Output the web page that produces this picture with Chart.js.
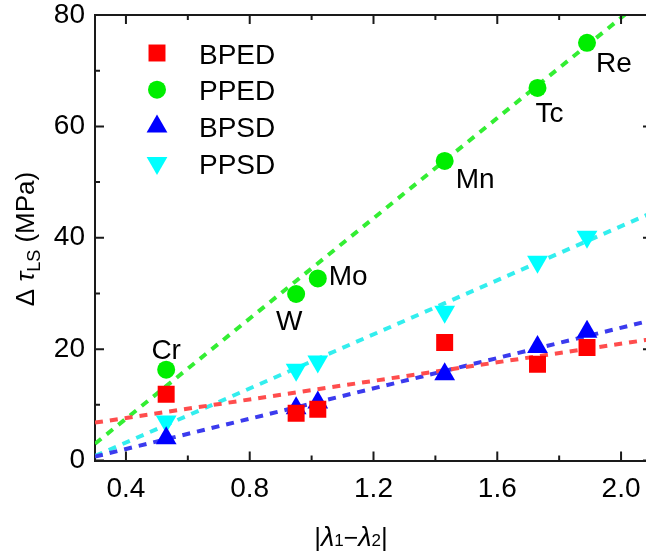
<!DOCTYPE html>
<html>
<head>
<meta charset="utf-8">
<script src="https://cdn.jsdelivr.net/npm/chart.js@4.4.0/dist/chart.umd.min.js"></script>
<style>
  html, body { margin: 0; background: #fff; overflow: hidden; width: 646px; height: 557px; }
  canvas { display: block; }
</style>
</head>
<body>
<canvas id="chart" width="680" height="557"></canvas>
<script>
// x = |lambda1 - lambda2| for each element, y = delta tau_LS (MPa)
const elements = ["Cr", "W", "Mo", "Mn", "Tc", "Re"];
const lambdaDiff = [0.53, 0.95, 1.02, 1.43, 1.73, 1.89];
const bped = [11.9, 8.5, 9.2, 21.2, 17.3, 20.3];
const pped = [16.3, 29.9, 32.7, 53.8, 66.9, 75.0];
const bpsd = [4.0, 9.4, 10.4, 15.5, 20.4, 23.1];
const ppsd = [7.0, 16.3, 17.8, 26.7, 35.7, 40.2];

// dashed fit lines, read at the left and right edges of the plot
const fitX = [0.3, 2.1];
const bpedFit = [6.8, 21.8];
const ppedFit = [3.0, 84.0];
const bpsdFit = [0.7, 25.2];
const ppsdFit = [0.8, 44.5];

const xTicks = [0.4, 0.6, 0.8, 1.0, 1.2, 1.4, 1.6, 1.8, 2.0];
const yTicks = [0, 10, 20, 30, 40, 50, 60, 70, 80];

const FONT = '"Liberation Sans", Arial, sans-serif';
const isMajorX = v => Math.round(v * 10) % 4 === 0;
const isMajorY = v => v % 20 === 0;

const pts = ys => lambdaDiff.map((x, i) => ({ x: x, y: ys[i] }));
const fit = ys => fitX.map((x, i) => ({ x: x, y: ys[i] }));

function markerSet(label, ys, color, style, radius, rotation) {
  return {
    label: label, data: pts(ys), order: 1,
    pointStyle: style, pointRadius: radius, pointHoverRadius: radius,
    pointRotation: rotation || 0,
    backgroundColor: color, borderColor: color, borderWidth: 0,
    showLine: false
  };
}
function fitSet(ys, color) {
  return {
    type: "line", data: fit(ys), order: 2, legendSkip: true,
    borderColor: color, borderWidth: 4, borderDash: [8, 7],
    pointRadius: 0, fill: false, tension: 0
  };
}

// element names next to the PPED circles (pixel offsets from the point)
const labelOffsets = {
  Cr: [0, -11, "center"], W: [-7, 36, "center"], Mo: [11, 7, "left"],
  Mn: [11, 27, "left"], Tc: [-2, 34, "left"], Re: [9, 29, "left"]
};

const elementLabels = {
  id: "elementLabels",
  afterDatasetsDraw(chart) {
    const { ctx, scales: { x, y } } = chart;
    ctx.save();
    ctx.font = "28px " + FONT;
    ctx.fillStyle = "#000";
    ctx.textBaseline = "alphabetic";
    elements.forEach((name, i) => {
      const o = labelOffsets[name];
      ctx.textAlign = o[2];
      ctx.fillText(name, x.getPixelForValue(lambdaDiff[i]) + o[0], y.getPixelForValue(pped[i]) + o[1]);
    });
    ctx.restore();
  }
};

const frame = {
  id: "frame",
  afterDraw(chart) {
    const { ctx, chartArea: a, scales: { x, y } } = chart;
    ctx.save();
    ctx.strokeStyle = "#1a1a1a";
    ctx.lineWidth = 2;
    ctx.beginPath();
    ctx.moveTo(a.left, a.top); ctx.lineTo(a.right, a.top);
    ctx.moveTo(a.right, a.top); ctx.lineTo(a.right, a.bottom);
    xTicks.forEach(v => {
      const px = x.getPixelForValue(v), len = isMajorX(v) ? 9 : 5;
      ctx.moveTo(px, a.bottom); ctx.lineTo(px, a.bottom - len);
      ctx.moveTo(px, a.top); ctx.lineTo(px, a.top + len);
    });
    yTicks.forEach(v => {
      const py = y.getPixelForValue(v), len = isMajorY(v) ? 9 : 5;
      ctx.moveTo(a.left, py); ctx.lineTo(a.left + len, py);
      ctx.moveTo(a.right, py); ctx.lineTo(a.right - len, py);
    });
    ctx.stroke();

    // legend inside the plot
    const sets = chart.data.datasets.filter(d => !d.legendSkip);
    sets.forEach((d, i) => {
      const my = 53 + i * 36.7;
      ctx.fillStyle = d.backgroundColor;
      Chart.helpers.drawPoint(ctx, {
        pointStyle: d.pointStyle, radius: d.pointRadius,
        rotation: d.pointRotation, borderWidth: 0
      }, 157, my);
      ctx.fillStyle = "#000";
      ctx.font = "28px " + FONT;
      ctx.textAlign = "left";
      ctx.textBaseline = "alphabetic";
      ctx.fillText(d.label, 199, my + 10.5);
    });

    // axis titles with italic symbols and subscripts
    drawPieces(ctx, [
      ["Δ", "26px " + FONT, 0], [" ", "26px " + FONT, 0],
      ["τ", "italic 26px " + FONT, 0], ["LS", "18px " + FONT, 6],
      [" (MPa)", "26px " + FONT, 0]
    ], 34, 239, true);
    drawPieces(ctx, [
      ["|", "26px " + FONT, 0], ["λ", "italic 27px " + FONT, 0],
      ["1", "17px " + FONT, 0], ["−", "25px " + FONT, 0],
      ["λ", "italic 27px " + FONT, 0], ["2", "17px " + FONT, 0],
      ["|", "26px " + FONT, 0]
    ], 351, 546, false);
    ctx.restore();
  }
};

function drawPieces(ctx, pieces, cx, cy, rotate) {
  ctx.save();
  ctx.translate(cx, cy);
  if (rotate) ctx.rotate(-Math.PI / 2);
  ctx.fillStyle = "#000";
  ctx.textAlign = "left";
  ctx.textBaseline = "alphabetic";
  let total = 0;
  pieces.forEach(p => { ctx.font = p[1]; total += ctx.measureText(p[0]).width; });
  let px = -total / 2;
  pieces.forEach(p => {
    ctx.font = p[1];
    ctx.fillText(p[0], px, p[2]);
    px += ctx.measureText(p[0]).width;
  });
  ctx.restore();
}

new Chart(document.getElementById("chart"), {
  type: "scatter",
  data: {
    datasets: [
      markerSet("BPED", bped, "#ff0000", "rect", 12),
      markerSet("PPED", pped, "#00ee00", "circle", 9),
      markerSet("BPSD", bpsd, "#0000ff", "triangle", 12),
      markerSet("PPSD", ppsd, "#00ffff", "triangle", 12, 180),
      fitSet(bpedFit, "#ff4d4d"),
      fitSet(ppedFit, "#33ee33"),
      fitSet(bpsdFit, "#3b3bee"),
      fitSet(ppsdFit, "#33eeee")
    ]
  },
  options: {
    responsive: false,
    animation: false,
    layout: { padding: { top: 15, right: 28, left: 0, bottom: 0 } },
    plugins: { legend: { display: false }, tooltip: { enabled: false } },
    scales: {
      x: {
        type: "linear", position: "bottom", min: 0.3, max: 2.1,
        grid: { display: false, drawTicks: false },
        border: { display: true, color: "#1a1a1a", width: 2 },
        afterBuildTicks: s => { s.ticks = xTicks.map(v => ({ value: v })); },
        afterFit: s => { s.height = 96.5; s.paddingLeft = 0; s.paddingRight = 0; },
        ticks: {
          color: "#000", font: { family: FONT, size: 28 }, padding: 12,
          maxRotation: 0, autoSkip: false,
          callback: v => isMajorX(v) ? v.toFixed(1) : ""
        }
      },
      y: {
        type: "linear", min: 0, max: 80,
        grid: { display: false, drawTicks: false },
        border: { display: true, color: "#1a1a1a", width: 2 },
        afterBuildTicks: s => { s.ticks = yTicks.map(v => ({ value: v })); },
        afterFit: s => { s.width = 95; s.paddingTop = 0; s.paddingBottom = 0; },
        ticks: {
          color: "#000", font: { family: FONT, size: 28 }, padding: 10,
          autoSkip: false,
          callback: v => isMajorY(v) ? String(v) : ""
        }
      }
    }
  },
  plugins: [elementLabels, frame]
});
</script>
</body>
</html>
